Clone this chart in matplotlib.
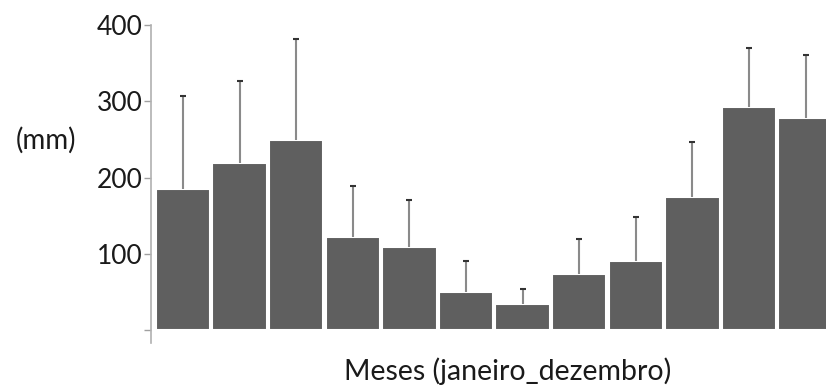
import matplotlib
matplotlib.use("Agg")
import matplotlib.pyplot as plt
import numpy as np

months = ["jan", "fev", "mar", "abr", "mai", "jun", "jul", "ago", "set", "out", "nov", "dez"]
chuva = [185, 219, 249, 122, 109, 50, 34, 73, 90, 175, 292, 278]
erro_sup = [122, 107, 133, 67, 62, 40, 20, 47, 58, 71, 78, 83]
yticks = [0, 100, 200, 300, 400]
ytick_labels = ["", "100", "200", "300", "400"]

plt.rcParams["font.family"] = ["Lato", "DejaVu Sans"]

fig = plt.figure(figsize=(8.26, 3.85), dpi=100)
ax = fig.add_axes([0.1828, 0.1091, 0.8172, 0.826])

x = np.arange(len(months))
ax.bar(x, chuva, width=0.96, color="#5f5f5f", edgecolor="white", linewidth=1.5, zorder=2)

eb = ax.errorbar(x, chuva, yerr=[np.zeros(len(chuva)), erro_sup], fmt="none",
                 ecolor="#8a8a8a", elinewidth=1.5, capsize=2, capthick=1.5, zorder=3)
# only the upper cap is shown
eb[1][0].set_visible(False)
for cap in eb[1]:
    cap.set_markeredgecolor("#333333")

ax.set_xlim(-0.565, 11.36)
ax.set_ylim(-17, 400)
ax.set_yticks(yticks)
ax.set_yticklabels(ytick_labels, fontsize=19, color="#1a1a1a")
ax.tick_params(axis="y", length=5, width=1, color="#a0a0a0", pad=1)
ax.set_xticks([])

for side in ["top", "right", "bottom"]:
    ax.spines[side].set_visible(False)
ax.spines["left"].set_color("#b0b0b0")
ax.spines["left"].set_linewidth(1.2)

fig.text(0.056, 0.636, "(mm)", fontsize=20, ha="center", va="center", color="#1a1a1a")
fig.text(0.615, 0.036, "Meses (janeiro_dezembro)", fontsize=20.5, ha="center", va="center",
         color="#1a1a1a")

fig.savefig("out.png", dpi=100)
plt.close(fig)
